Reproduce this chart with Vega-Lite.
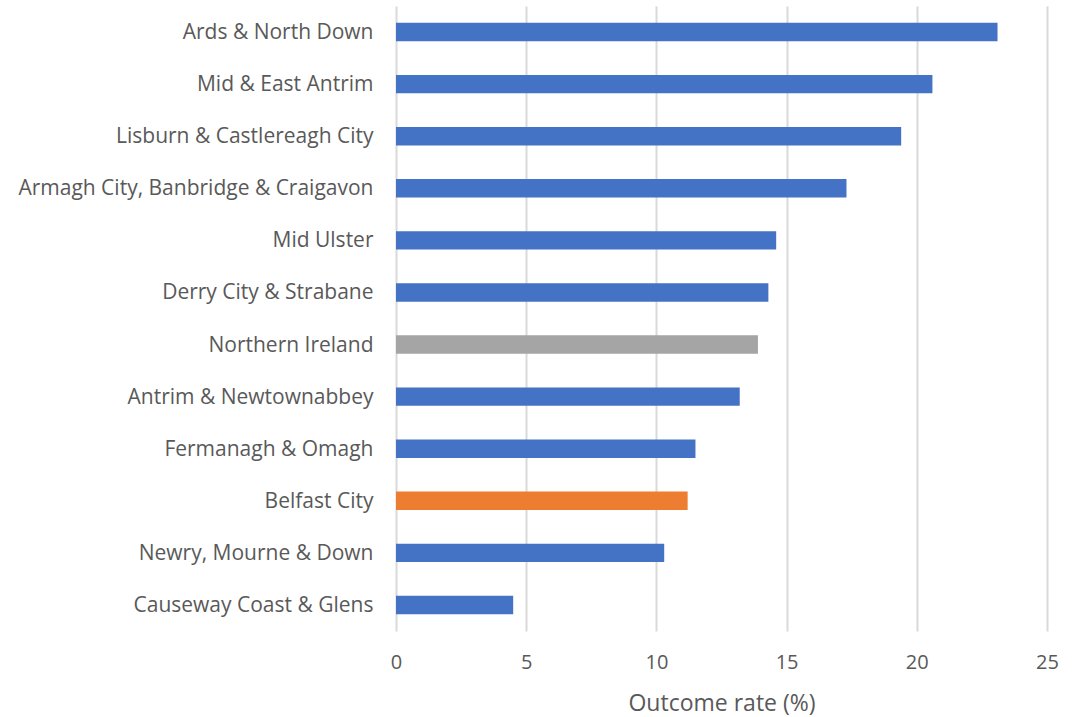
{
  "$schema": "https://vega.github.io/schema/vega-lite/v6.json",
  "width": 651,
  "height": 625,
  "autosize": {"type": "none"},
  "padding": {"left": 396, "top": 6, "right": 39, "bottom": 86},
  "background": "white",
  "data": {
    "values": [
      {"area": "Ards & North Down", "rate": 23.1, "group": "LGD"},
      {"area": "Mid & East Antrim", "rate": 20.6, "group": "LGD"},
      {"area": "Lisburn & Castlereagh City", "rate": 19.4, "group": "LGD"},
      {"area": "Armagh City, Banbridge & Craigavon", "rate": 17.3, "group": "LGD"},
      {"area": "Mid Ulster", "rate": 14.6, "group": "LGD"},
      {"area": "Derry City & Strabane", "rate": 14.3, "group": "LGD"},
      {"area": "Northern Ireland", "rate": 13.9, "group": "NI"},
      {"area": "Antrim & Newtownabbey", "rate": 13.2, "group": "LGD"},
      {"area": "Fermanagh & Omagh", "rate": 11.5, "group": "LGD"},
      {"area": "Belfast City", "rate": 11.2, "group": "Belfast"},
      {"area": "Newry, Mourne & Down", "rate": 10.3, "group": "LGD"},
      {"area": "Causeway Coast & Glens", "rate": 4.5, "group": "LGD"}
    ]
  },
  "mark": {"type": "bar"},
  "encoding": {
    "y": {
      "field": "area",
      "type": "nominal",
      "sort": null,
      "scale": {"paddingInner": 0.645, "paddingOuter": 0.3225},
      "axis": {
        "title": null,
        "domain": false,
        "ticks": false,
        "labelPadding": 23,
        "labelFont": "Open Sans",
        "labelFontSize": 21,
        "labelColor": "#595959",
        "labelLimit": 420,
        "labelOffset": 1
      }
    },
    "x": {
      "field": "rate",
      "type": "quantitative",
      "scale": {"domain": [0, 25]},
      "axis": {
        "values": [0, 5, 10, 15, 20, 25],
        "title": "Outcome rate (%)",
        "titleFont": "Open Sans",
        "titleFontSize": 23,
        "titleFontWeight": "normal",
        "titleColor": "#595959",
        "titlePadding": 20,
        "labelFont": "Open Sans",
        "labelFontSize": 20,
        "labelColor": "#595959",
        "labelPadding": 21,
        "labelFlush": false,
        "domain": false,
        "ticks": false,
        "grid": true,
        "gridColor": "#D9D9D9",
        "gridWidth": 2
      }
    },
    "color": {
      "field": "group",
      "type": "nominal",
      "scale": {"domain": ["LGD", "NI", "Belfast"], "range": ["#4472C4", "#A5A5A5", "#ED7D31"]},
      "legend": null
    }
  },
  "config": {"view": {"stroke": null}}
}
